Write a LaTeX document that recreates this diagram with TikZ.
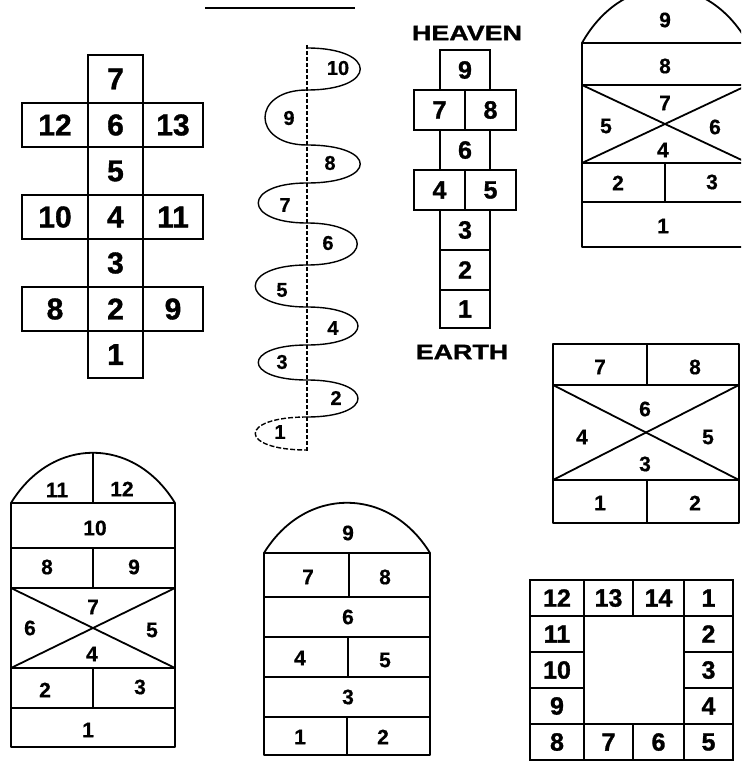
\documentclass[tikz,border=0pt]{standalone}
\usepackage{fontspec}
\setmainfont{Liberation Sans}
\newfontfamily\hopheavy{Liberation Sans Bold}[FakeBold=1.2]
\newfontfamily\hopsemi{Liberation Sans Bold}[FakeBold=0.6]
\usepackage{tikz}
\usetikzlibrary{positioning}

\newcommand{\hopbig}{\hopheavy\fontsize{30}{30}\selectfont}
\newcommand{\hopmid}{\hopheavy\fontsize{25}{25}\selectfont}
\newcommand{\hopsmall}{\hopsemi\fontsize{21}{21}\selectfont}
\newcommand{\hoptiny}{\hopsemi\fontsize{20}{20}\selectfont}

\tikzset{
  box/.style={draw, line width=1.8pt, inner sep=0pt},
  kcol/.style={box, font=\hopbig, minimum width=55, minimum height=48},
  kside/.style={box, font=\hopbig, minimum height=44},
  hcell/.style={box, font=\hopmid, minimum width=50, minimum height=40},
  qcell/.style={box, font=\hopmid, minimum height=36},
  num/.style={inner sep=0pt, font=\hopsmall},
  wall/.style={line width=1.8pt, line join=round},
  coilline/.style={line width=1.4pt},
}

\begin{document}
\begin{tikzpicture}[x=1pt,y=-1pt]
    \useasboundingbox (0,0) rectangle (741,762);
    \clip (0,0) rectangle (741,762);

    \draw[line width=2pt] (205,8) -- (355,8);

    % cross hopscotch
    \node[kcol] (k7) at (115.5,79) {7};
    \node[kcol, minimum height=44] (k6) at (115.5,125) {6};
    \node[kcol] (k5) at (115.5,171) {5};
    \node[kcol, minimum height=44] (k4) at (115.5,217) {4};
    \node[kcol] (k3) at (115.5,263) {3};
    \node[kcol, minimum height=44] (k2) at (115.5,309) {2};
    \node[kcol, minimum height=47] (k1) at (115.5,354.5) {1};
    \node[kside, minimum width=66] (k12) at (55,125) {12};
    \node[kside, minimum width=60] (k13) at (173,125) {13};
    \node[kside, minimum width=66] (k10) at (55,217) {10};
    \node[kside, minimum width=60] (k11) at (173,217) {11};
    \node[kside, minimum width=66] (k8) at (55,309) {8};
    \node[kside, minimum width=60] (k9) at (173,309) {9};

    % coil
    \coordinate (ctop) at (307,45);
    \coordinate (cbot) at (307,452);
    \draw[line width=1.2pt, dash pattern=on 4pt off 2pt] (ctop) -- (cbot);
    \foreach \ya/\yb/\xc in {48/90/378, 90/145/251, 145/183/378, 183/223/242,
        223/265/374, 265/307/238, 307/345/375, 345/380/242, 380/417/375}
        \draw[coilline] (307,\ya) .. controls (\xc,\ya) and (\xc,\yb) .. (307,\yb);
    \draw[coilline, dash pattern=on 5pt off 2pt] (307,417) .. controls (238,417) and (238,450) .. (307,450);
    \node[num, font=\hoptiny] (s10) at (338,68) {10};
    \node[num, font=\hoptiny] (s9) at (289,118) {9};
    \node[num, font=\hoptiny] (s8) at (330,163) {8};
    \node[num, font=\hoptiny] (s7) at (285,205) {7};
    \node[num, font=\hoptiny] (s6) at (328,243) {6};
    \node[num, font=\hoptiny] (s5) at (282,290) {5};
    \node[num, font=\hoptiny] (s4) at (333,328) {4};
    \node[num, font=\hoptiny] (s3) at (282,362) {3};
    \node[num, font=\hoptiny] (s2) at (336,398) {2};
    \node[num, font=\hoptiny] (s1) at (280,432) {1};

    % heaven and earth
    \node[font=\hopheavy\fontsize{21}{21}\selectfont] (heaven) at (467,33) {\scalebox{1.28}[1]{HEAVEN}};
    \node[hcell] (h9) at (465,70) {9};
    \node[hcell, minimum width=51] (h7) at (439.5,110) {7};
    \node[hcell, minimum width=51] (h8) at (490.5,110) {8};
    \node[hcell] (h6) at (465,150) {6};
    \node[hcell, minimum width=51] (h4) at (439.5,190) {4};
    \node[hcell, minimum width=51] (h5) at (490.5,190) {5};
    \node[hcell] (h3) at (465,230) {3};
    \node[hcell] (h2) at (465,270) {2};
    \node[hcell, minimum height=38] (h1) at (465,309) {1};
    \node[font=\hopheavy\fontsize{21}{21}\selectfont] (earth) at (462,352) {\scalebox{1.28}[1]{EARTH}};

    % arch, top right
    \draw[wall] (582,43) rectangle (748,247);
    \draw[wall] (582,43) .. controls (623,-30) and (707,-30) .. (748,43);
    \draw[wall] (582,85) -- (748,85);
    \draw[wall] (582,163) -- (748,163);
    \draw[wall] (582,202) -- (748,202);
    \draw[wall] (582,85) -- (748,163);
    \draw[wall] (582,163) -- (748,85);
    \draw[wall] (665,163) -- (665,202);
    \node[num] (a9) at (665,20) {9};
    \node[num] (a8) at (665,66) {8};
    \node[num] (a7) at (665,103) {7};
    \node[num] (a5) at (606,126) {5};
    \node[num] (a6) at (715,127) {6};
    \node[num] (a4) at (663,150) {4};
    \node[num] (a2) at (618,183) {2};
    \node[num] (a3) at (712,182) {3};
    \node[num] (a1) at (663,226) {1};

    % box, middle right
    \draw[wall] (553,344) rectangle (739,523);
    \draw[wall] (553,385) -- (739,385);
    \draw[wall] (553,480) -- (739,480);
    \draw[wall] (647,344) -- (647,385);
    \draw[wall] (647,480) -- (647,523);
    \draw[wall] (553,385) -- (739,480);
    \draw[wall] (553,480) -- (739,385);
    \node[num] (b7) at (600,367) {7};
    \node[num] (b8) at (695,367) {8};
    \node[num] (b6) at (645,409) {6};
    \node[num] (b4) at (582,437) {4};
    \node[num] (b5) at (708,437) {5};
    \node[num] (b3) at (645,464) {3};
    \node[num] (b1) at (600,503) {1};
    \node[num] (b2) at (695,503) {2};

    % arch, bottom left
    \draw[wall] (11,503) rectangle (175,747);
    \draw[wall] (11,503) .. controls (52,436) and (134,436) .. (175,503);
    \draw[wall] (93,453) -- (93,503);
    \draw[wall] (11,548) -- (175,548);
    \draw[wall] (11,588) -- (175,588);
    \draw[wall] (11,668) -- (175,668);
    \draw[wall] (11,708) -- (175,708);
    \draw[wall] (93,548) -- (93,588);
    \draw[wall] (93,668) -- (93,708);
    \draw[wall] (11,588) -- (175,668);
    \draw[wall] (11,668) -- (175,588);
    \node[num] (c11) at (57,490) {11};
    \node[num] (c12) at (122,489) {12};
    \node[num] (c10) at (95,528) {10};
    \node[num] (c8) at (47,567) {8};
    \node[num] (c9) at (134,567) {9};
    \node[num] (c7) at (93,607) {7};
    \node[num] (c6) at (30,628) {6};
    \node[num] (c5) at (152,630) {5};
    \node[num] (c4) at (92,654) {4};
    \node[num] (c2) at (45,690) {2};
    \node[num] (c3) at (140,687) {3};
    \node[num] (c1) at (88,730) {1};

    % arch, bottom middle
    \draw[wall] (264,553) rectangle (430,755);
    \draw[wall] (264,553) .. controls (305,486) and (389,486) .. (430,553);
    \draw[wall] (264,597) -- (430,597);
    \draw[wall] (264,637) -- (430,637);
    \draw[wall] (264,677) -- (430,677);
    \draw[wall] (264,717) -- (430,717);
    \draw[wall] (349,553) -- (349,597);
    \draw[wall] (348,637) -- (348,677);
    \draw[wall] (347,717) -- (347,755);
    \node[num] (d9) at (348,533) {9};
    \node[num] (d7) at (308,577) {7};
    \node[num] (d8) at (385,577) {8};
    \node[num] (d6) at (348,617) {6};
    \node[num] (d4) at (300,658) {4};
    \node[num] (d5) at (385,660) {5};
    \node[num] (d3) at (348,697) {3};
    \node[num] (d1) at (300,737) {1};
    \node[num] (d2) at (383,737) {2};

    % square ring
    \node[qcell, minimum width=54] (q12) at (557,598) {12};
    \node[qcell, minimum width=49] (q13) at (608.5,598) {13};
    \node[qcell, minimum width=51] (q14) at (658.5,598) {14};
    \node[qcell, minimum width=49] (q1) at (708.5,598) {1};
    \node[qcell, minimum width=54] (q11) at (557,634) {11};
    \node[qcell, minimum width=54] (q10) at (557,670) {10};
    \node[qcell, minimum width=54] (q9) at (557,706) {9};
    \node[qcell, minimum width=49] (q2) at (708.5,634) {2};
    \node[qcell, minimum width=49] (q3) at (708.5,670) {3};
    \node[qcell, minimum width=49] (q4) at (708.5,706) {4};
    \node[qcell, minimum width=54] (q8) at (557,742) {8};
    \node[qcell, minimum width=49] (q7) at (608.5,742) {7};
    \node[qcell, minimum width=51] (q6) at (658.5,742) {6};
    \node[qcell, minimum width=49] (q5) at (708.5,742) {5};
\end{tikzpicture}
\end{document}
